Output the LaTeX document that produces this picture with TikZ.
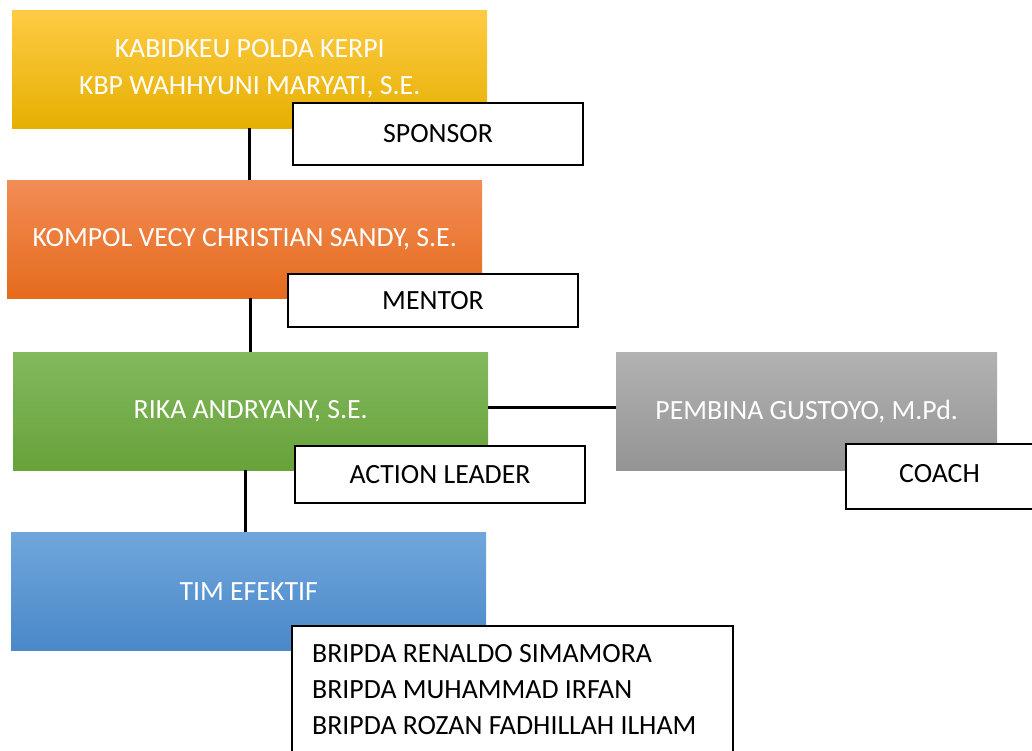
\documentclass[tikz,border=0pt]{standalone}
\usepackage{fontspec}
\setmainfont{Carlito}
\usetikzlibrary{calc}
\definecolor{ylT}{HTML}{FFCB45}
\definecolor{ylM}{HTML}{FFC000}
\definecolor{ylB}{HTML}{E5B000}
\definecolor{orT}{HTML}{F28C55}
\definecolor{orM}{HTML}{F07C30}
\definecolor{orB}{HTML}{E56B1D}
\definecolor{grT}{HTML}{82B95E}
\definecolor{grM}{HTML}{73AF48}
\definecolor{grB}{HTML}{68A239}
\definecolor{gyT}{HTML}{B2B2B2}
\definecolor{gyM}{HTML}{A5A5A5}
\definecolor{gyB}{HTML}{949494}
\definecolor{blT}{HTML}{70A6DC}
\definecolor{blM}{HTML}{5B9BD5}
\definecolor{blB}{HTML}{4A88C8}
\tikzset{
  cbox/.style={rectangle, anchor=north west, minimum height=118pt, inner sep=0pt,
    text=white, align=center, font=\fontsize{27.8}{37}\selectfont},
  rolebox/.style={rectangle, anchor=north west, draw=black, line width=2pt, fill=white,
    inner sep=0pt, align=center, font=\fontsize{27.8}{37}\selectfont},
  link/.style={draw=black, line width=3pt}
}
\begin{document}
\begin{tikzpicture}[x=1pt,y=-1pt]
\useasboundingbox (0,0) rectangle (1032,750);
% colored boxes
\node[cbox, minimum width=475pt, top color=ylT, middle color=ylM, bottom color=ylB] (sponsorP) at (12,10) {KABIDKEU POLDA KERPI\\KBP WAHHYUNI MARYATI, S.E.};
\node[cbox, minimum width=475pt, top color=orT, middle color=orM, bottom color=orB] (mentorP) at (7,180) {KOMPOL VECY CHRISTIAN SANDY, S.E.};
\node[cbox, minimum width=475pt, top color=grT, middle color=grM, bottom color=grB] (leaderP) at (13,352) {RIKA ANDRYANY, S.E.};
\node[cbox, minimum width=381pt, top color=gyT, middle color=gyM, bottom color=gyB] (coachP) at (616,352) {PEMBINA GUSTOYO, M.Pd.};
\node[cbox, minimum width=475pt, top color=blT, middle color=blM, bottom color=blB] (team) at (11,532) {TIM EFEKTIF};
% connectors
\draw[link] (sponsorP.south) -- (sponsorP.south |- mentorP.north);
\draw[link] (leaderP.north |- mentorP.south) -- (leaderP.north);
\coordinate (lb) at ($(leaderP.south)+(-5,0)$);
\draw[link] (lb) -- (lb |- team.north);
\coordinate (lr) at ($(leaderP.east)+(0,-4)$);
\draw[link] (lr) -- (lr -| coachP.west);
% role boxes
\node[rolebox, minimum width=290pt, minimum height=62pt] (sponsor) at (292,102) {SPONSOR};
\node[rolebox, minimum width=290pt, minimum height=53pt] (mentor) at (287,273) {MENTOR};
\node[rolebox, minimum width=290pt, minimum height=57pt] (leader) at (294,445) {ACTION LEADER};
\node[rolebox, minimum width=187pt, minimum height=65pt, text depth=7pt] (coach) at (845,443) {COACH};
\node[rolebox, minimum width=441pt, minimum height=130pt] (members) at (291,625) {};
\node[anchor=north west, inner sep=0pt, align=left, font=\fontsize{27.8}{36}\selectfont] (memtext) at (312,644) {BRIPDA RENALDO SIMAMORA\\BRIPDA MUHAMMAD IRFAN\\BRIPDA ROZAN FADHILLAH ILHAM};
\end{tikzpicture}
\end{document}
